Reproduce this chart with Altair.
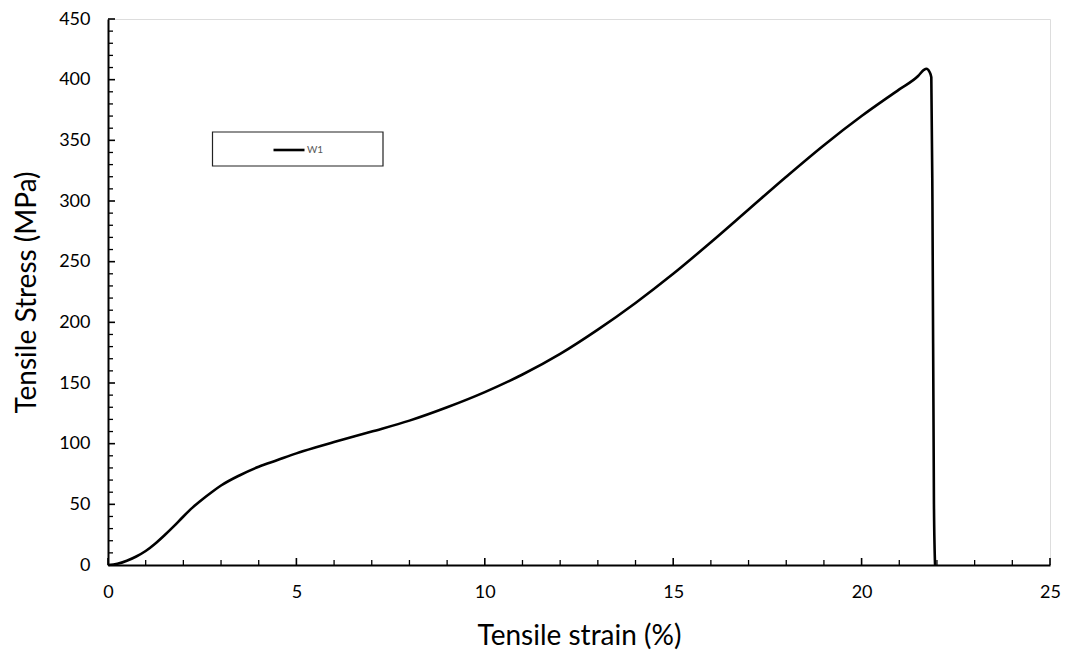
import altair as alt
import pandas as pd

# Curve (strain %, stress MPa)
strain = [0, 0.25, 0.5, 0.75, 1.0, 1.25, 1.5, 1.75, 2.0, 2.25, 2.5, 2.75, 3.0,
          3.5, 4.0, 4.5, 5.0, 5.5, 6.0, 7.0, 8.0, 9.0, 10.0, 11.0, 12.0, 13.0,
          14.0, 15.0, 16.0, 17.0, 18.0, 19.0, 20.0, 21.0, 21.5, 21.65, 21.72,
          21.80, 21.85, 21.88, 21.92, 21.95]
stress = [0, 1, 3.5, 7, 11.5, 17.5, 24.5, 32, 40, 47.5, 54, 60, 65.5,
          74, 81, 86.5, 92, 96.8, 101.3, 110, 119, 130, 142.5, 157, 174, 194,
          216, 240, 266, 293, 320, 346, 370, 392, 403, 408, 409,
          406.5, 402, 300, 50, 0]
series_name = "W1"

x_major = [0, 5, 10, 15, 20, 25]
y_major = [0, 50, 100, 150, 200, 250, 300, 350, 400, 450]
x_minor = list(range(0, 26))
y_minor = list(range(0, 451, 10))

W, H = 942, 546
FONT = "Lato"

curve = pd.DataFrame({"strain": strain, "stress": stress,
                      "idx": list(range(len(strain))), "series": series_name})

xs = alt.Scale(domain=[0, 25], nice=False, zero=False)
ys = alt.Scale(domain=[0, 450], nice=False, zero=False)

line = alt.Chart(curve).mark_line(
    strokeWidth=2.6, interpolate="monotone", strokeJoin="round"
).encode(
    x=alt.X("strain:Q", scale=xs,
            axis=alt.Axis(title="Tensile strain (%)", values=x_major, grid=False,
                          ticks=False, tickSize=0, domainColor="black", domainWidth=2,
                          labelFontSize=18, labelPadding=18, labelColor="black",
                          labelFlush=False,
                          titleFontSize=28, titleFontWeight="normal", titleColor="black",
                          titlePadding=21, labelFont=FONT, titleFont=FONT)),
    y=alt.Y("stress:Q", scale=ys,
            axis=alt.Axis(title="Tensile Stress (MPa)", values=y_major, grid=False,
                          ticks=False, tickSize=0, domainColor="black", domainWidth=2,
                          labelFontSize=18, labelPadding=18, labelColor="black",
                          labelFlush=False,
                          titleFontSize=28, titleFontWeight="normal", titleColor="black",
                          titlePadding=17, labelFont=FONT, titleFont=FONT)),
    order="idx:Q",
    color=alt.Color("series:N", scale=alt.Scale(range=["black"]),
                    legend=alt.Legend(title=None, orient="none", legendX=164, legendY=114,
                                      symbolType="stroke", symbolSize=961,
                                      symbolStrokeWidth=2.6, labelFontSize=10,
                                      labelColor="#595959", labelFont=FONT,
                                      labelOffset=1, padding=0)),
)

xmin_df = pd.DataFrame({"t": [v for v in x_minor if v not in x_major]})
xmaj_df = pd.DataFrame({"t": x_major})
ymin_df = pd.DataFrame({"t": [v for v in y_minor if v not in y_major]})
ymaj_df = pd.DataFrame({"t": y_major})

xt_minor = alt.Chart(xmin_df).mark_rule(color="black", strokeWidth=1.3).encode(
    x=alt.X("t:Q", scale=xs), y=alt.value(H), y2=alt.value(H - 5))
xt_major = alt.Chart(xmaj_df).mark_rule(color="black", strokeWidth=1.6).encode(
    x=alt.X("t:Q", scale=xs), y=alt.value(H), y2=alt.value(H - 7))
yt_minor = alt.Chart(ymin_df).mark_rule(color="black", strokeWidth=1.3).encode(
    y=alt.Y("t:Q", scale=ys), x=alt.value(0), x2=alt.value(5))
yt_major = alt.Chart(ymaj_df).mark_rule(color="black", strokeWidth=1.6).encode(
    y=alt.Y("t:Q", scale=ys), x=alt.value(0), x2=alt.value(7))

legend_box = alt.Chart(pd.DataFrame({"k": [0]})).mark_rect(
    fill="white", stroke="#222222", strokeWidth=1.2
).encode(x=alt.value(104.5), x2=alt.value(275), y=alt.value(113), y2=alt.value(147))

chart = alt.layer(legend_box, xt_minor, xt_major, yt_minor, yt_major, line).properties(
    width=W, height=H,
    autosize=alt.AutoSizeParams(type="none"),
    padding={"left": 100, "top": 11, "right": 12, "bottom": 92},
).configure_view(stroke="#8c8c8c", strokeWidth=1.5).configure(background="white")

chart.save("out.html", embed_options={"renderer": "svg", "actions": False})
